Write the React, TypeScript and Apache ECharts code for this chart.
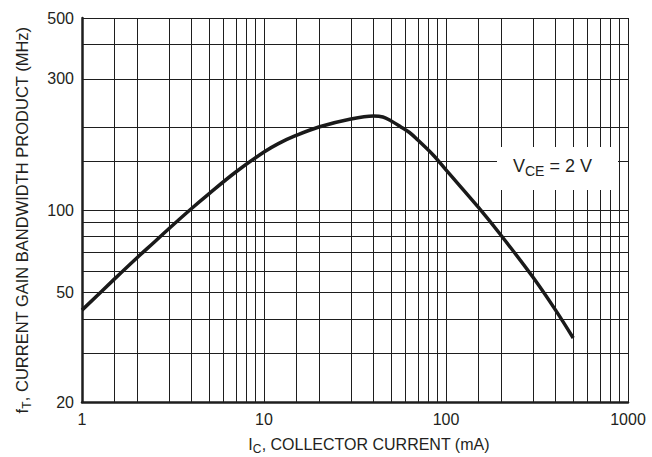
import React, { useEffect, useRef } from "react";
import * as echarts from "echarts";

// Collector current (mA) and fT (MHz)
const currentMA = [1, 1.5, 2, 2.5, 3, 4, 5, 7, 10, 12, 15, 20, 30, 40, 45, 50, 56, 63, 70, 85, 100, 150, 200, 300, 400, 500];
const ftMHz = [43.2, 55.9, 66.9, 76.5, 85.5, 101.3, 114.8, 137.5, 162.6, 174.5, 186.8, 200.6, 214.5, 219.9, 218.1, 210.9, 201.5, 191.5, 179.8, 158.6, 139.9, 102.6, 81.1, 57, 43.2, 34.2];

// Grid lines
const xGridValues = [1, 1.5, 2, 3, 4, 5, 6, 7, 8, 9, 10, 15, 20, 30, 40, 50, 60, 70, 80, 90, 100, 150, 200, 300, 400, 500, 600, 700, 800, 900, 1000];
const yGridValues = [20, 30, 40, 50, 60, 70, 80, 90, 100, 150, 200, 300, 400, 500];
const yTickLabels = [20, 50, 100, 300, 500];

const FONT = "'Liberation Sans', Arial, Helvetica, sans-serif";
const INK = "#231f20";
const LINE = "#1e1e1e";

export default function App() {
  const ref = useRef<HTMLDivElement | null>(null);

  useEffect(() => {
    if (!ref.current) return;
    const chart = echarts.init(ref.current, null, { renderer: "svg" });

    const gridLines: any[] = [];
    xGridValues.forEach((v) => gridLines.push({ xAxis: v, label: { show: false } }));
    yGridValues.forEach((v) =>
      gridLines.push({
        yAxis: v,
        label: yTickLabels.includes(v)
          ? {
              show: true,
              position: "start",
              distance: 8,
              formatter: String(v),
              fontSize: 16,
              fontFamily: FONT,
              color: INK,
            }
          : { show: false },
      })
    );

    const option: any = {
      animation: false,
      backgroundColor: "#ffffff",
      grid: { left: 82, top: 18, right: 24, bottom: 55, containLabel: false, outerBoundsMode: "none" },
      xAxis: {
        type: "log",
        logBase: 10,
        min: 1,
        max: 1000,
        axisLine: { show: true, lineStyle: { color: LINE, width: 2.5 } },
        axisTick: { show: false },
        splitLine: { show: false },
        minorSplitLine: { show: false },
        axisLabel: {
          show: true,
          margin: 9,
          fontSize: 16,
          fontFamily: FONT,
          color: INK,
          formatter: (v: number) => String(Math.round(v)),
        },
      },
      yAxis: {
        type: "log",
        logBase: 10,
        min: 20,
        max: 500,
        axisLine: { show: true, lineStyle: { color: LINE, width: 2.5 } },
        axisTick: { show: false },
        splitLine: { show: false },
        axisLabel: { show: false },
      },
      series: [
        {
          type: "line",
          z: 1,
          data: [[1, 20]],
          showSymbol: false,
          symbol: "none",
          lineStyle: { width: 0, opacity: 0 },
          silent: true,
          markLine: {
            silent: true,
            animation: false,
            symbol: ["none", "none"],
            lineStyle: { type: "solid", color: LINE, width: 1 },
            emphasis: { disabled: true },
            data: gridLines,
          },
        },
        {
          type: "line",
          z: 10,
          data: currentMA.map((x, i) => [x, ftMHz[i]]),
          showSymbol: false,
          symbol: "none",
          smooth: 0.35,
          lineStyle: { color: "#1a1a1a", width: 3.5 },
          silent: true,
        },
      ],
      graphic: [
        {
          type: "rect",
          z: 50,
          shape: { x: 497, y: 147, width: 121, height: 43 },
          style: { fill: "#ffffff" },
        },
        {
          type: "text",
          z: 51,
          x: 513,
          y: 166,
          style: {
            text: "{a|V}{s|CE}{a| = 2 V}",
            align: "left",
            verticalAlign: "middle",
            textAlign: "left",
            textVerticalAlign: "middle",
            fill: INK,
            rich: {
              a: { fontSize: 18, lineHeight: 24, fontFamily: FONT, fill: INK },
              s: { fontSize: 14, lineHeight: 14, fontFamily: FONT, fill: INK, verticalAlign: "bottom" },
            },
          },
        },
        {
          type: "text",
          z: 51,
          x: 369,
          y: 444,
          style: {
            text: "{a|I}{s|C}{a|, COLLECTOR CURRENT (mA)}",
            align: "center",
            verticalAlign: "middle",
            textAlign: "center",
            textVerticalAlign: "middle",
            fill: INK,
            rich: {
              a: { fontSize: 16, lineHeight: 22, fontFamily: FONT, fill: INK },
              s: { fontSize: 12, lineHeight: 12, fontFamily: FONT, fill: INK, verticalAlign: "bottom" },
            },
          },
        },
        {
          type: "text",
          z: 51,
          x: 22,
          y: 220,
          rotation: Math.PI / 2,
          style: {
            text: "{a|f}{s|T}{a|, CURRENT GAIN BANDWIDTH PRODUCT (MHz)}",
            align: "center",
            verticalAlign: "middle",
            textAlign: "center",
            textVerticalAlign: "middle",
            fill: INK,
            rich: {
              a: { fontSize: 16.5, lineHeight: 22, fontFamily: FONT, fill: INK },
              s: { fontSize: 12, lineHeight: 12, fontFamily: FONT, fill: INK, verticalAlign: "bottom" },
            },
          },
        },
      ],
    };

    chart.setOption(option);
    return () => {
      chart.dispose();
    };
  }, []);

  return (
    <div
      ref={ref}
      style={{ position: "absolute", left: 0, top: 0, width: 652, height: 457, background: "#fff" }}
    />
  );
}
